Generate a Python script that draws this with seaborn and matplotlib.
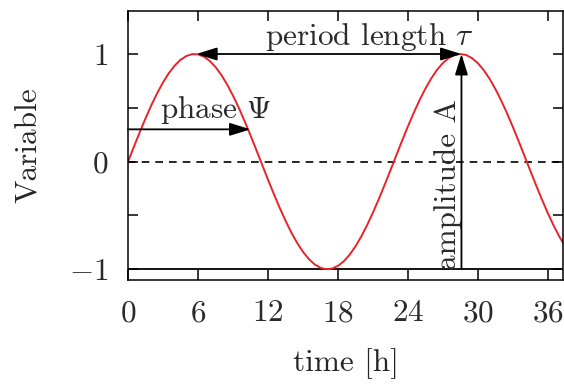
import matplotlib
matplotlib.use("Agg")
import matplotlib.pyplot as plt
import seaborn as sns
import pandas as pd

# values (half-hourly samples of the curve)
time_h = [i * 0.5 for i in range(0, 77)]
variable = [0.000, 0.137, 0.272, 0.402, 0.524, 0.636, 0.736, 0.822, 0.892, 0.946,
            0.981, 0.999, 0.997, 0.976, 0.936, 0.880, 0.806, 0.717, 0.614, 0.500,
            0.376, 0.246, 0.110, -0.028, -0.165, -0.299, -0.427, -0.547, -0.657, -0.754,
            -0.837, -0.904, -0.954, -0.986, -1.000, -0.994, -0.969, -0.927, -0.866, -0.789,
            -0.697, -0.592, -0.476, -0.351, -0.219, -0.083, 0.055, 0.192, 0.325, 0.452,
            0.570, 0.677, 0.772, 0.852, 0.916, 0.962, 0.991, 1.000, 0.991, 0.962,
            0.916, 0.852, 0.772, 0.677, 0.570, 0.452, 0.325, 0.192, 0.055, -0.083,
            -0.219, -0.351, -0.476, -0.592, -0.697, -0.789, -0.866]
x_ticks = [0, 6, 12, 18, 24, 30, 36]
y_ticks = [-1, -0.5, 0, 0.5, 1]
y_tick_labels = [r"$-1$", "", r"$0$", "", r"$1$"]
peak1_t, peak2_t = 5.85, 28.6
phase_end_t, phase_level = 10.5, 0.3

df = pd.DataFrame({"time": time_h, "value": variable})

sns.set_theme(style="ticks")
plt.rcParams.update({
    "font.family": ["serif"],
    "font.serif": ["cmr10", "DejaVu Serif"],
    "mathtext.fontset": "cm",
    "axes.formatter.use_mathtext": True,
    "axes.unicode_minus": False,
    "font.size": 22.5,
    "text.color": "#2a2a2a",
})
FS = 22.5

fig = plt.figure(figsize=(5.64, 3.86), dpi=100)
ax = fig.add_axes([0.227, 0.2746, 0.771, 0.697])

ax.axhline(0, color="black", lw=1.2, ls=(0, (4.6, 3.6)), zorder=1)
ax.axhline(-1, color="black", lw=1.3, zorder=1)
sns.lineplot(data=df, x="time", y="value", ax=ax, color="#e8232b", lw=1.4, zorder=2)

arrow_kw = dict(color="black", lw=1.3, shrinkA=0, shrinkB=0, mutation_scale=14)
head = "head_length=0.9,head_width=0.28"
ax.annotate("", xy=(peak2_t, 1), xytext=(peak1_t, 1),
            arrowprops=dict(arrowstyle="<|-|>," + head, **arrow_kw), zorder=3)
ax.annotate("", xy=(peak2_t, 1), xytext=(peak2_t, -1),
            arrowprops=dict(arrowstyle="-|>," + head, **arrow_kw), zorder=3)
ax.annotate("", xy=(phase_end_t, phase_level), xytext=(0, phase_level),
            arrowprops=dict(arrowstyle="-|>," + head, **arrow_kw), zorder=3)

ax.text(20.7, 1.08, r"period length $\tau$", ha="center", va="baseline", fontsize=FS)
ax.text(7.5, 0.41, r"phase $\Psi$", ha="center", va="baseline", fontsize=FS)
ax.text(27.45, -0.21, "amplitude A", rotation=90, ha="center", va="center", fontsize=FS)

ax.set_xlim(0, 37.3)
ax.set_ylim(-1.1, 1.4)
ax.set_xticks(x_ticks)
ax.set_xticklabels([rf"${v}$" for v in x_ticks])
ax.set_yticks(y_ticks)
ax.set_yticklabels(y_tick_labels)
ax.tick_params(direction="in", length=7, width=1.1, top=True, right=True,
               pad=14, labelsize=FS, colors="black", labelcolor="#2a2a2a")
ax.set_xlabel("time [h]", fontsize=FS, labelpad=15)
ax.set_ylabel("Variable", fontsize=FS, labelpad=19)
for s in ax.spines.values():
    s.set_linewidth(1.1)
    s.set_color("black")

fig.savefig("out.png", dpi=100)
